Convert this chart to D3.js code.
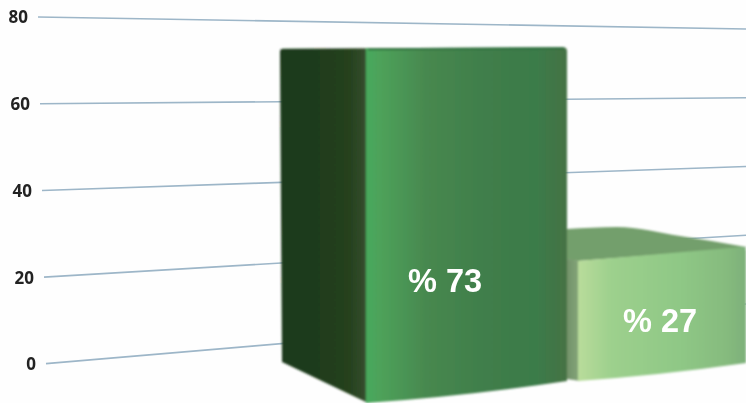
<!DOCTYPE html>
<html><head><meta charset="utf-8">
<script src="https://cdn.jsdelivr.net/npm/d3@7"></script>
<style>html,body{margin:0;padding:0;background:#fefefe;overflow:hidden}svg{display:block}</style>
</head><body><div id="c"></div>
<script>
const categories = ["A", "B"];
const values = [73, 27];
const valueLabels = ["% 73", "% 27"];
const tickValues = [0, 20, 40, 60, 80];

const W = 746, H = 403;
const svg = d3.select("#c").append("svg").attr("width", W).attr("height", H);
const defs = svg.append("defs");
function blur(id, s){
  defs.append("filter").attr("id",id).attr("filterUnits","userSpaceOnUse")
    .attr("x",0).attr("y",0).attr("width",W).attr("height",H)
    .append("feGaussianBlur").attr("stdDeviation",s);
}
blur("soft",0.9); blur("softer",0.6); blur("textSoft",0.35);

// Back wall: value scales at the left and right ends of the wall
const wallX = d3.scaleLinear().domain([0,1]).range([42, 746]);
const wallL = d3.scaleLinear().domain([0,80]).range([364, 17]);
const wallR = d3.scaleLinear().domain([0,80]).range([304, 29]);
const wallY = (v,t) => d3.interpolateNumber(wallL(v), wallR(v))(t);
const startX = d3.scaleLinear().domain([0,80]).range([46,38]);

// Gridlines and tick labels
const line = d3.line();
const grid = svg.append("g");
tickValues.forEach(v => {
  const start = startX(v);
  const tStart = wallX.invert(start);
  grid.append("path")
    .attr("d", line([[start, wallY(v,tStart)],[W, wallY(v,1)]]))
    .attr("fill","none").attr("stroke","#9db6c8").attr("stroke-width",1.6).attr("filter","url(#softer)");
  grid.append("text")
    .attr("x", start-10).attr("y", wallY(v,tStart)+6.5)
    .attr("text-anchor","end")
    .attr("font-family","'Noto Sans',sans-serif").attr("font-weight","bold").attr("font-size",17)
    .attr("fill","#222").attr("filter","url(#textSoft)").text(v);
});

// Bar planes
const planes = {
  A:{backX:280, frontL:366, frontR:567, backBase:362, backUnit:4.29, baseL:403, unitL:4.86, baseR:383, unitR:4.6, sag:3},
  B:{backX:565, frontL:578, frontR:746, backBase:379, backUnit:4.44, baseL:381, unitL:4.44, baseR:365, unitR:4.37, sag:2}
};
function gradient(id, stops){
  const g = defs.append("linearGradient").attr("id",id).attr("x1",0).attr("x2",1).attr("y1",0).attr("y2",0);
  stops.forEach(s=>g.append("stop").attr("offset",s[0]).attr("stop-color",s[1]));
}
gradient("sideA",[[0,"#1c3a1a"],[0.5,"#203c1c"],[0.8,"#26421f"],[0.93,"#314a2a"],[1,"#3e5a38"]]);
gradient("frontA",[[0,"#47a95c"],[0.07,"#4ea25a"],[0.3,"#47884f"],[0.6,"#407e4b"],[0.85,"#3b7b49"],[1,"#467244"]]);
gradient("sideB",[[0,"#6f8f68"],[1,"#86a67a"]]);
gradient("frontB",[[0,"#b9dc9b"],[0.2,"#9dd08d"],[0.6,"#8fc886"],[0.88,"#86bb7e"],[1,"#7db079"]]);

const bars = svg.append("g").attr("filter","url(#soft)");
const curve = d3.line().curve(d3.curveMonotoneX);
// draw right bar first so the left one overlaps it
categories.map((c,i)=>({c,v:values[i],i})).reverse().forEach(d=>{
  const p = planes[d.c];
  const topL = p.baseL - d.v*p.unitL, topR = p.baseR - d.v*p.unitR;
  const backTop = p.backBase - d.v*p.backUnit;
  const midFront = (p.frontL+p.frontR)/2;
  const g = bars.append("g");
  if (d.c === "B") {
    const back = curve([[p.backX+2,topL-32],[p.backX+52,topL-34],[p.backX+115,topL-25],[W,topR]]);
    g.append("path").attr("d", back + `L${W},${topR+1}L${p.frontL},${topL}L${p.backX},${topL-2}Z`).attr("fill","#739f6c");
  }
  // side face
  g.append("path")
    .attr("d",`M${p.backX},${backTop+3}Q${p.backX},${backTop} ${p.backX+3},${backTop}L${p.frontL+2},${topL}L${p.frontL+2},${p.baseL}L${p.backX+2},${p.backBase}Z`)
    .attr("fill",`url(#side${d.c})`);
  // front face
  g.append("path")
    .attr("d",`M${p.frontL},${topL}L${p.frontR-4},${topR}Q${p.frontR},${topR} ${p.frontR},${topR+4}L${p.frontR},${p.baseR-2}Q${midFront},${(p.baseL+p.baseR)/2+p.sag} ${p.frontL},${p.baseL}Z`)
    .attr("fill",`url(#front${d.c})`);
  // dark rim along the top of the tall bar
  if (d.c === "A") {
    g.append("path").attr("d", line([[p.frontL+2,topL+1],[p.frontR-3,topR+1]]))
      .attr("stroke","#2f6e3e").attr("stroke-width",2).attr("fill","none");
  }
});

// Value labels
const labelPos = [[445,292],[660,332]];
svg.append("g").selectAll("text").data(valueLabels).join("text")
  .attr("x",(d,i)=>labelPos[i][0]).attr("y",(d,i)=>labelPos[i][1])
  .attr("text-anchor","middle").attr("fill","#fff")
  .attr("font-family","'Liberation Sans',Arial,sans-serif").attr("font-weight","bold").attr("font-size",32.5)
  .attr("filter","url(#textSoft)")
  .text(d=>d);
</script></body></html>
